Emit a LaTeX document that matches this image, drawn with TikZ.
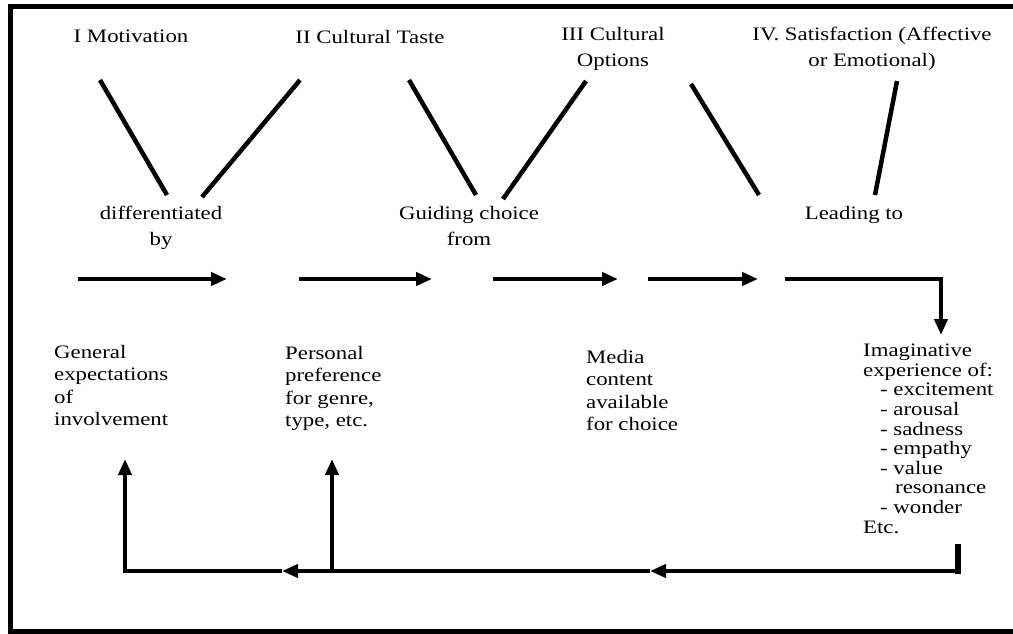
\documentclass[tikz,border=0pt]{standalone}
\usepackage{fontspec}
\setmainfont{Liberation Serif}[FakeStretch=1.2]
\usetikzlibrary{arrows.meta}

\begin{document}
\begin{tikzpicture}[x=1pt,y=-1pt,
  lbl/.style={inner sep=0pt, anchor=north, align=center, font=\fontsize{19}{26}\selectfont},
  blk/.style={inner sep=0pt, anchor=north west, align=left, font=\fontsize{19}{22.5}\selectfont},
  tight/.style={blk, font=\fontsize{19}{19.6}\selectfont},
  stroke/.style={line width=4.5pt},
  flow/.style={line width=4pt, -{Triangle[length=16pt,width=13pt]}},
]
\useasboundingbox (0,0) rectangle (1013,633);

% outer frame
\draw[line width=5pt] (10.5,6) rectangle (1040,631);

% stage headings
\node[lbl] (mot) at (131,30) {I Motivation};
\node[lbl] (taste) at (370,30) {II Cultural Taste};
\node[lbl] (opt) at (613,27) {III Cultural\\Options};
\node[lbl] (sat) at (872,27) {IV. Satisfaction (Affective\\or Emotional)};

% linking phrases
\node[lbl] (diff) at (161,206) {differentiated\\by};
\node[lbl] (guide) at (469,206) {Guiding choice\\from};
\node[lbl] (lead) at (854,206) {Leading to};

% stage contents
\node[blk] (gen) at (54,345) {General\\expectations\\of\\involvement};
\node[blk] (pers) at (285,346) {Personal\\preference\\for genre,\\type, etc.};
\node[blk] (media) at (586,350) {Media\\content\\available\\for choice};
\node[tight] (imag) at (863,344) {Imaginative\\experience of:\\\hspace*{17pt}- excitement\\\hspace*{17pt}- arousal\\\hspace*{17pt}- sadness\\\hspace*{17pt}- empathy\\\hspace*{17pt}- value\\\hspace*{32pt}resonance\\\hspace*{17pt}- wonder\\Etc.};

% end points of the slanted strokes
\coordinate (s1a) at (100,80);  \coordinate (s1b) at (167,195);
\coordinate (s2a) at (300,80);  \coordinate (s2b) at (202,197);
\coordinate (s3a) at (409,80);  \coordinate (s3b) at (476,195);
\coordinate (s4a) at (586,81);  \coordinate (s4b) at (503,199);
\coordinate (s5a) at (691,84);  \coordinate (s5b) at (759,195);
\coordinate (s6a) at (897,81);  \coordinate (s6b) at (875,195);

\draw[stroke] (s1a) -- (s1b);
\draw[stroke] (s2a) -- (s2b);
\draw[stroke] (s3a) -- (s3b);
\draw[stroke] (s4a) -- (s4b);
\draw[stroke] (s5a) -- (s5b);
\draw[stroke] (s6a) -- (s6b);

% forward flow
\coordinate (f1a) at (78,279);  \coordinate (f1b) at (227,279);
\coordinate (f2a) at (299,279); \coordinate (f2b) at (432,279);
\coordinate (f3a) at (493,279); \coordinate (f3b) at (618,279);
\coordinate (f4a) at (648,279); \coordinate (f4b) at (758,279);
\coordinate (f5a) at (785,279); \coordinate (f5c) at (941,279);
\coordinate (f5b) at (941,335);

\draw[flow] (f1a) -- (f1b);
\draw[flow] (f2a) -- (f2b);
\draw[flow] (f3a) -- (f3b);
\draw[flow] (f4a) -- (f4b);
\draw[flow] (f5a) -- (f5c) -- (f5b);

% feedback loop
\coordinate (b0) at (958,544);
\coordinate (b1) at (958,571);
\coordinate (b2) at (650,571);
\coordinate (b3) at (282,571);
\coordinate (b4) at (125,571);
\coordinate (b5) at (125,459);
\coordinate (b6) at (332,571);
\coordinate (b7) at (332,459);

\draw[line width=5.5pt] (b0) -- (958,573.5);
\draw[flow] (b1) -- (b2);
\draw[flow] (b2) -- (b3);
\draw[flow] (b3) -- (b4) -- (b5);
\draw[flow] (b6) -- (b7);
\end{tikzpicture}
\end{document}
